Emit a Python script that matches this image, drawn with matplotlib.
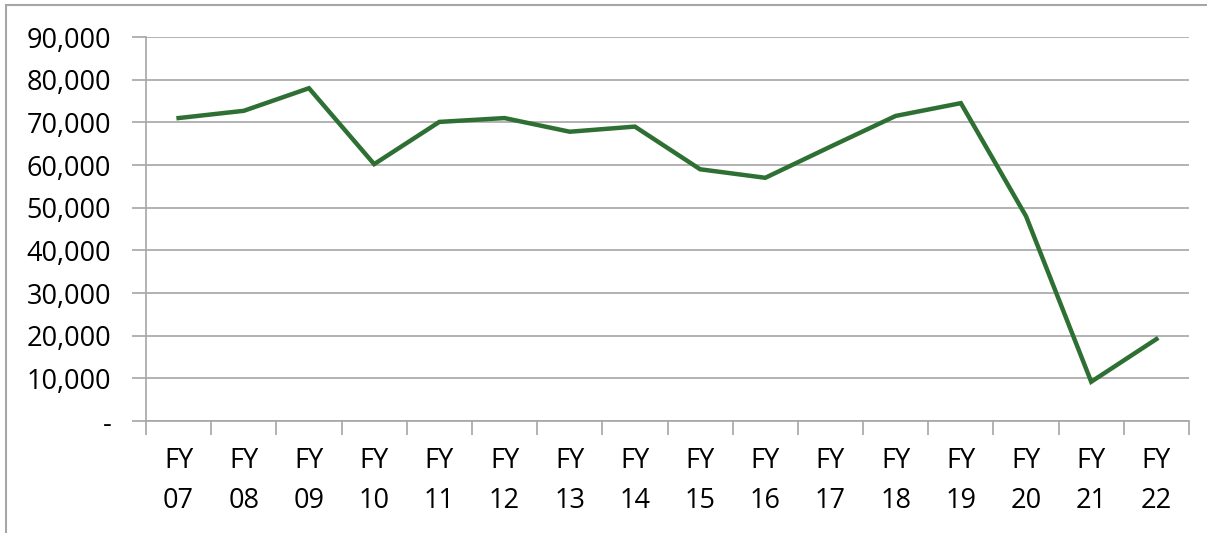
import matplotlib.pyplot as plt
import numpy as np
from matplotlib.patches import Rectangle
from matplotlib.ticker import FuncFormatter

plt.rcParams['font.family'] = ['Open Sans', 'DejaVu Sans']

years = ["07", "08", "09", "10", "11", "12", "13", "14",
         "15", "16", "17", "18", "19", "20", "21", "22"]
values = [71000, 72700, 78000, 60200, 70100, 71000, 67800, 69000,
          59000, 57000, 64300, 71500, 74500, 48000, 9200, 19200]
labels = ["FY\n" + y for y in years]

fig = plt.figure(figsize=(12.07, 5.33), dpi=100)
ax = fig.add_axes([146 / 1207, 1 - 421 / 533, (1189 - 146) / 1207, (421 - 37) / 533])

# outer frame of the chart object
fig.patches.append(Rectangle((6 / 1207, -0.1), 1.2, 1.1 - 5 / 533,
                             transform=fig.transFigure, fill=False,
                             edgecolor='#a6a6a6', linewidth=1.5))

x = np.arange(len(years))
ax.plot(x, values, color='#2e7033', linewidth=3.2, solid_joinstyle='miter')

ax.set_xlim(-0.5, len(years) - 0.5)
ax.set_ylim(0, 90000)
ax.set_yticks(np.arange(0, 90001, 10000))
ax.yaxis.set_major_formatter(FuncFormatter(lambda v, p: "-" if v == 0 else f"{int(v):,}"))
ax.grid(axis='y', color='#a6a6a6', linewidth=1.2)
ax.set_axisbelow(True)

ax.set_xticks(x)
ax.set_xticklabels(labels, linespacing=1.55)
ax.set_xticks(np.arange(-0.5, len(years), 1), minor=True)
ax.tick_params(axis='x', which='major', length=0, pad=19, labelsize=19.5)
ax.tick_params(axis='x', which='minor', length=10, color='#a6a6a6', width=1.2)
ax.tick_params(axis='y', length=10, color='#a6a6a6', width=1.2, pad=15, labelsize=19.5)

for s in ['top', 'right']:
    ax.spines[s].set_visible(False)
ax.spines['left'].set_color('#a6a6a6')
ax.spines['bottom'].set_color('#a6a6a6')
ax.spines['left'].set_linewidth(1.2)
ax.spines['bottom'].set_linewidth(1.2)

plt.savefig("out.png", dpi=100)
